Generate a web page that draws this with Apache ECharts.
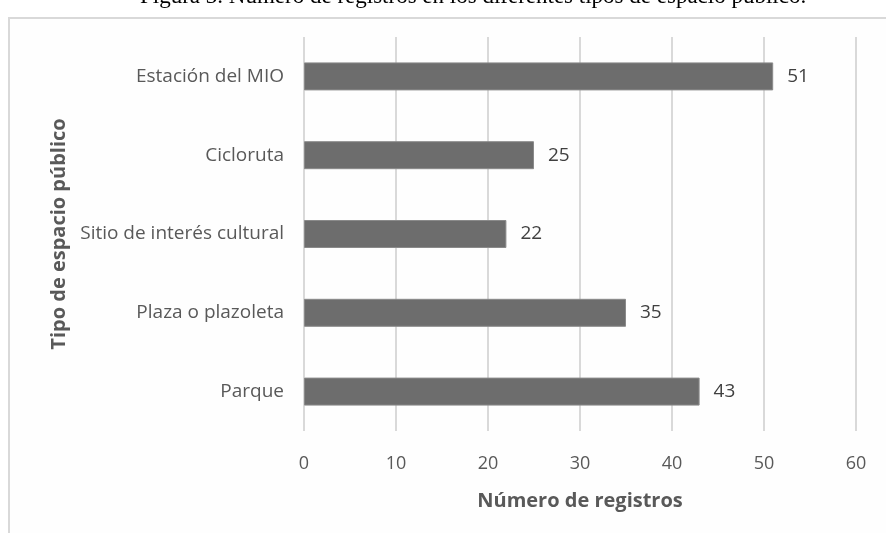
<!DOCTYPE html>
<html>
<head>
<meta charset="utf-8">
<script src="https://cdn.jsdelivr.net/npm/echarts@6/dist/echarts.min.js"></script>
<style>
  html, body { margin: 0; padding: 0; background: #fff; }
  #chart { width: 886px; height: 533px; }
</style>
</head>
<body>
<div id="chart"></div>
<script>
// datos
const categorias = ['Parque', 'Plaza o plazoleta', 'Sitio de interés cultural', 'Cicloruta', 'Estación del MIO']
const registros = [43, 35, 22, 25, 51]
const ticksX = [0, 10, 20, 30, 40, 50, 60]

const chart = echarts.init(document.getElementById('chart'))

const font = '"Open Sans", "Noto Sans", sans-serif'

const option = {
  animation: false,
  backgroundColor: '#ffffff',
  graphic: [
    // marco del gráfico (sale por la derecha y abajo)
    {
      type: 'rect',
      shape: { x: 9, y: 18, width: 900, height: 540 },
      style: { fill: '#fefefe', stroke: '#d9d9d9', lineWidth: 2 },
      z: -10
    },
    // título cortado arriba
    {
      type: 'text',
      left: 140,
      top: -15,
      style: {
        text: 'Figura 3. Número de registros en los diferentes tipos de espacio público.',
        font: '23px "Liberation Serif", "DejaVu Serif", serif',
        fill: '#000'
      }
    }
  ],
  grid: { left: 304, right: 30, top: 37, bottom: 102, containLabel: false },
  xAxis: {
    type: 'value',
    min: ticksX[0],
    max: ticksX[ticksX.length - 1],
    interval: 10,
    name: 'Número de registros',
    nameLocation: 'middle',
    nameGap: 60,
    nameTextStyle: { fontFamily: font, fontSize: 20, fontWeight: 'bold', color: '#595959' },
    axisLine: { show: false },
    axisTick: { show: false },
    axisLabel: { fontFamily: font, fontSize: 18, color: '#595959', margin: 24 },
    splitLine: { show: true, lineStyle: { color: '#d9d9d9', width: 2 } }
  },
  yAxis: {
    type: 'category',
    data: categorias,
    name: 'Tipo de espacio público',
    nameLocation: 'middle',
    nameGap: 231,
    nameRotate: 90,
    nameTextStyle: { fontFamily: font, fontSize: 20, fontWeight: 'bold', color: '#595959' },
    axisLine: { show: false },
    axisTick: { show: false },
    axisLabel: { fontFamily: font, fontSize: 19, color: '#595959', margin: 20 }
  },
  series: [
    {
      type: 'bar',
      data: registros,
      barWidth: 28,
      itemStyle: { color: '#6d6d6d', borderColor: '#8a8a8a', borderWidth: 1 },
      label: {
        show: true,
        position: 'right',
        distance: 14,
        fontFamily: font,
        fontSize: 19,
        color: '#404040'
      }
    }
  ]
}

chart.setOption(option)
</script>
</body>
</html>
